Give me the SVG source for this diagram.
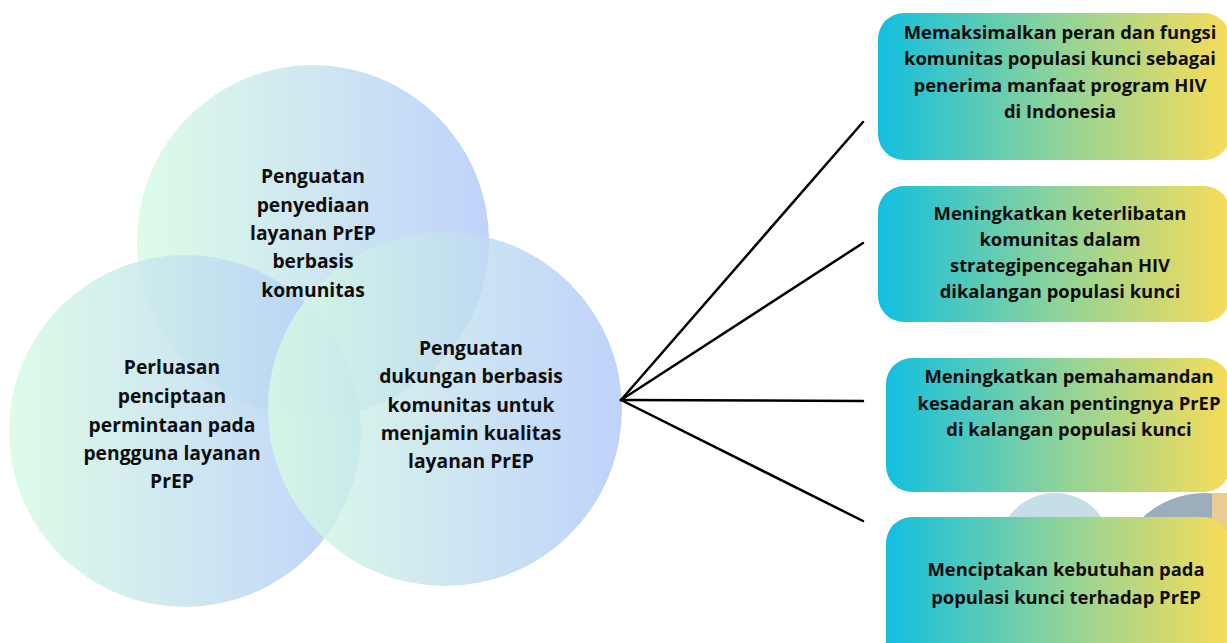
<svg xmlns="http://www.w3.org/2000/svg" width="1227" height="643" viewBox="0 0 1227 643">
<defs>
<linearGradient id="cg" x1="0" y1="0" x2="1" y2="0">
<stop offset="0" stop-color="#d6fbe2"/>
<stop offset="1" stop-color="#b1c9fa"/>
</linearGradient>
<linearGradient id="bg" x1="0" y1="0" x2="1" y2="0">
<stop offset="0" stop-color="#12bfe0"/>
<stop offset="0.5" stop-color="#8cd39b"/>
<stop offset="1" stop-color="#f8dc58"/>
</linearGradient>
<style>
.c{fill:url(#cg);fill-opacity:0.82}
.b{fill:url(#bg)}
text{font-family:"Open Sans","Liberation Sans",sans-serif;font-weight:700;fill:#0d0d0d;text-anchor:middle}
.ct{font-size:19.3px}
.bt{font-size:18.4px}
.ln{stroke:#000;stroke-width:2.5;fill:none;stroke-linecap:round}
</style>
</defs>
<rect width="1227" height="643" fill="#fff"/>
<g id="deco">
<circle cx="1055" cy="550" r="57" fill="#c5dfe6"/>
<circle cx="1205" cy="585" r="92" fill="#9aaebb"/>
<rect x="1212" y="493" width="20" height="40" fill="#ebcb93"/>
</g>
<g id="circle-top">
<circle class="c" cx="313" cy="241" r="176"/>
</g>
<g id="circle-left">
<circle class="c" cx="185" cy="431" r="176"/>
</g>
<g id="circle-right">
<circle class="c" cx="445" cy="409" r="177"/>
</g>
<g id="label-top">
<text class="ct"><tspan x="313" y="183">Penguatan</tspan><tspan x="313" y="212">penyediaan</tspan><tspan x="313" y="240">layanan PrEP</tspan><tspan x="313" y="268">berbasis</tspan><tspan x="313" y="297">komunitas</tspan></text>
</g>
<g id="label-left">
<text class="ct"><tspan x="172" y="374">Perluasan</tspan><tspan x="172" y="403">penciptaan</tspan><tspan x="172" y="432">permintaan pada</tspan><tspan x="172" y="460">pengguna layanan</tspan><tspan x="172" y="488">PrEP</tspan></text>
</g>
<g id="label-right">
<text class="ct"><tspan x="471" y="355">Penguatan</tspan><tspan x="471" y="383">dukungan berbasis</tspan><tspan x="471" y="412">komunitas untuk</tspan><tspan x="471" y="440">menjamin kualitas</tspan><tspan x="471" y="468">layanan PrEP</tspan></text>
</g>
<g id="connectors">
<line class="ln" x1="621" y1="400" x2="863" y2="122"/>
<line class="ln" x1="621" y1="400" x2="863" y2="243"/>
<line class="ln" x1="621" y1="400" x2="863" y2="401"/>
<line class="ln" x1="621" y1="400" x2="863" y2="521"/>
</g>
<g id="box1">
<rect class="b" x="878" y="13" width="352" height="147" rx="26"/>
<text class="bt"><tspan x="1060" y="39">Memaksimalkan peran dan fungsi</tspan><tspan x="1060" y="65">komunitas populasi kunci sebagai</tspan><tspan x="1060" y="92">penerima manfaat program HIV</tspan><tspan x="1060" y="118">di Indonesia</tspan></text>
</g>
<g id="box2">
<rect class="b" x="878" y="186" width="352" height="136" rx="26"/>
<text class="bt"><tspan x="1060" y="220">Meningkatkan keterlibatan</tspan><tspan x="1060" y="246">komunitas dalam</tspan><tspan x="1060" y="272">strategipencegahan HIV</tspan><tspan x="1060" y="298">dikalangan populasi kunci</tspan></text>
</g>
<g id="box3">
<rect class="b" x="886" y="358" width="344" height="134" rx="26"/>
<text class="bt"><tspan x="1069" y="383">Meningkatkan pemahamandan</tspan><tspan x="1069" y="410">kesadaran akan pentingnya PrEP</tspan><tspan x="1069" y="436">di kalangan populasi kunci</tspan></text>
</g>
<g id="box4">
<rect class="b" x="886" y="517" width="344" height="160" rx="26"/>
<text class="bt"><tspan x="1066" y="576">Menciptakan kebutuhan pada</tspan><tspan x="1066" y="604">populasi kunci terhadap PrEP</tspan></text>
</g>
</svg>
